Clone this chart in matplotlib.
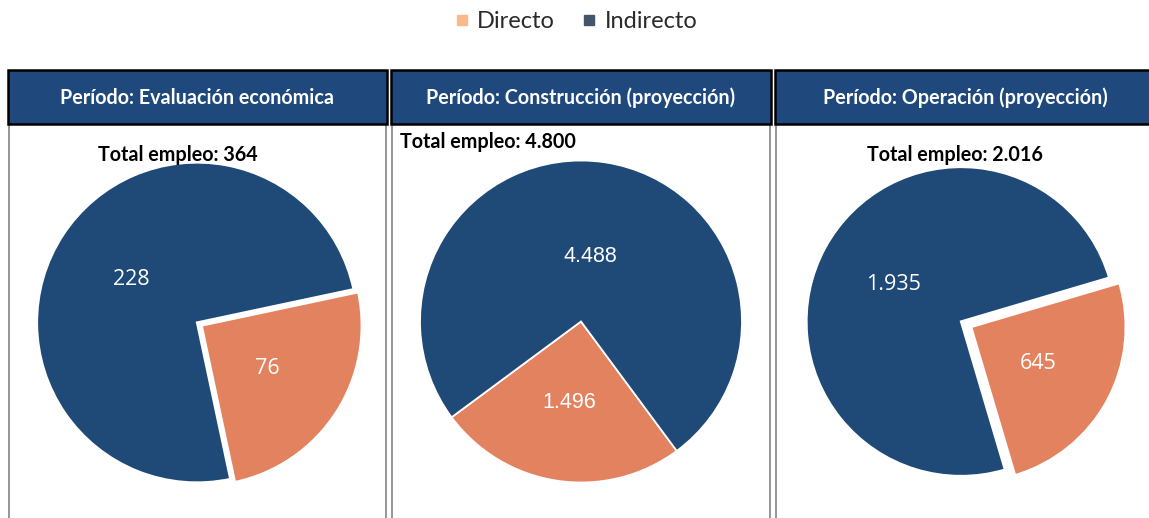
import matplotlib
matplotlib.use("Agg")
import matplotlib.pyplot as plt
from matplotlib.patches import Rectangle
from matplotlib.lines import Line2D
import numpy as np

# ---- data ----
series_names = ["Directo", "Indirecto"]
periods = ["Período: Evaluación económica",
           "Período: Construcción (proyección)",
           "Período: Operación (proyección)"]
totals = ["Total empleo: 364", "Total empleo: 4.800", "Total empleo: 2.016"]
directo = [76, 1496, 645]
indirecto = [228, 4488, 1935]
directo_labels = ["76", "1.496", "645"]
indirecto_labels = ["228", "4.488", "1.935"]

# ---- styling ----
W, H = 1149, 518
DPI = 100
C_DIR = "#E3825F"
C_IND = "#1F4977"
C_HEAD = "#1F497C"
LEG_DIR = "#F8B98B"
LEG_IND = "#44546A"
FONT = "Lato"

fig = plt.figure(figsize=(W / DPI, H / DPI), dpi=DPI)
fig.patch.set_facecolor("white")


def fx(x):
    return x / W


def fy(y):
    return 1 - y / H


def prect(x0, y0, x1, y1, **kw):
    r = Rectangle((fx(x0), fy(y1)), fx(x1) - fx(x0), fy(y0) - fy(y1),
                  transform=fig.transFigure, **kw)
    fig.add_artist(r)
    return r


# panel frames
panels_x = [(8, 387), (391, 771), (775, 1155)]
for (x0, x1), title in zip(panels_x, periods):
    prect(x0 + 1, 123, x1 - 1, 530, facecolor="none", edgecolor="#8C8C8C",
          linewidth=1.3, zorder=1)
    prect(x0, 70, x1, 123.5, facecolor=C_HEAD, edgecolor="black",
          linewidth=1.8, zorder=2)
    fig.text(fx((x0 + x1) / 2), fy(97.5), title, ha="center", va="center",
             color="white", fontsize=14.2, fontweight="bold", family=FONT,
             zorder=3)

# pies
pie_specs = [
    dict(cx=197, cy=322.5, r=160, start=-78, explode=0.035, lw=1.6,
         fdir=0.49, find=0.49, tfont="Open Sans", tsize=15.5),
    dict(cx=581, cy=321.5, r=161, start=216.5, explode=0.0, lw=1.3,
         fdir=0.51, find=0.41, tfont="Liberation Sans", tsize=15.5),
    dict(cx=961, cy=321.5, r=154.5, start=-73.5, explode=0.075, lw=1.6,
         fdir=0.49, find=0.50, tfont="Open Sans", tsize=15.5),
]
tot_pos = [(178, 155, "center"), (400, 142, "left"), (955, 155, "center")]

for i, sp in enumerate(pie_specs):
    S = 2 * sp["r"] + 40
    ax = fig.add_axes([fx(sp["cx"] - S / 2), fy(sp["cy"] + S / 2),
                       S / W, S / H])
    ax.set_zorder(5)
    ax.patch.set_visible(False)
    vals = [directo[i], indirecto[i]]
    wedges, _ = ax.pie(vals, colors=[C_DIR, C_IND], startangle=sp["start"],
                       counterclock=True, explode=[sp["explode"], 0],
                       wedgeprops=dict(edgecolor="white", linewidth=sp["lw"]))
    lim = S / (2 * sp["r"])
    ax.set_xlim(-lim, lim)
    ax.set_ylim(-lim, lim)
    ax.set_aspect("equal")
    ax.axis("off")
    for w, lab, f in zip(wedges, [directo_labels[i], indirecto_labels[i]],
                         [sp["fdir"], sp["find"]]):
        th = np.deg2rad((w.theta1 + w.theta2) / 2)
        cxw, cyw = w.center
        ax.text(cxw + f * w.r * np.cos(th), cyw + f * w.r * np.sin(th), lab,
                ha="center", va="center", color="white",
                fontsize=sp["tsize"], family=sp["tfont"])
    tx, ty, ha = tot_pos[i]
    fig.text(fx(tx), fy(ty), totals[i], ha=ha, va="center", color="black",
             fontsize=14.2, fontweight="bold", family=FONT, zorder=6)

# legend
handles = [Line2D([], [], marker="s", linestyle="none", markersize=7.5,
                  markerfacecolor=c, markeredgecolor=c)
           for c in [LEG_DIR, LEG_IND]]
fig.legend(handles, series_names, loc="center", bbox_to_anchor=(fx(573), fy(22)),
           ncol=2, frameon=False, prop=dict(family=FONT, size=17),
           handletextpad=0.1, columnspacing=0.9, handlelength=1.1,
           labelcolor="#2A2A2A")

fig.savefig("out.png", dpi=DPI)
